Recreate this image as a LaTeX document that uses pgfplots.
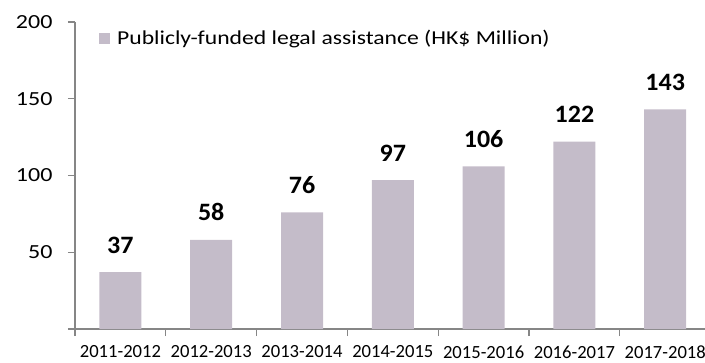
\documentclass[border=0pt]{standalone}
\usepackage{fontspec}
\setmainfont{Carlito}
\newfontfamily\widefont{Carlito}[FakeStretch=1.2]
\newfontfamily\lblfont{Carlito}[FakeStretch=1.04]
\usepackage{pgfplots}
\pgfplotsset{compat=1.18}
\definecolor{barc}{RGB}{196,188,201}
\definecolor{axc}{RGB}{134,134,134}
\begin{document}
\begin{tikzpicture}
\begin{axis}[
  scale only axis, width=630pt, height=307pt,
  xmin=-0.5, xmax=6.438, ymin=0, ymax=200,
  axis x line*=bottom, axis y line*=left,
  axis line style={axc, line width=1.3pt, -},
  ybar, bar width=42pt, bar shift=0pt,
  xtick={0,...,6},
  xticklabels={2011-2012,2012-2013,2013-2014,2014-2015,2015-2016,2016-2017,2017-2018},
  major x tick style={draw=none},
  minor xtick={-0.5,0.5,1.5,2.5,3.5,4.5,5.5},
  ytick={0,50,100,150,200}, yticklabels={,50,100,150,200},
  tick align=outside, major tick length=7pt, minor tick length=7pt,
  tick style={axc, line width=1.3pt},
  /pgf/number format/assume math mode=true,
  x tick label style={font=\fontsize{18.6}{20}\selectfont, yshift=-6pt},
  y tick label style={font=\widefont\fontsize{20}{22}\selectfont, xshift=-12pt},
  nodes near coords,
  nodes near coords style={font=\lblfont\bfseries\fontsize{25}{28}\selectfont, anchor=base, yshift=19pt, text=black},
  legend style={at={(rel axis cs:0.038,0.9475)}, anchor=west, draw=none, fill=none,
    font=\widefont\fontsize{19.7}{22}\selectfont, inner sep=0pt},
  legend cell align=left,
]
\addplot[fill=barc, draw=none,
  legend image code/.code={\fill[barc] (0pt,-5.5pt) rectangle (11pt,5.5pt); \path (16pt,0pt);}]
  coordinates {(0,37) (1,58) (2,76) (3,97) (4,106) (5,122) (6,143)};
\addlegendentry{Publicly-funded legal assistance (HK\$ Million)}
\end{axis}
\pgfresetboundingbox
\path (current axis.south west) ++(-75pt,-33pt) rectangle ++(705pt,362pt);
\end{tikzpicture}
\end{document}
